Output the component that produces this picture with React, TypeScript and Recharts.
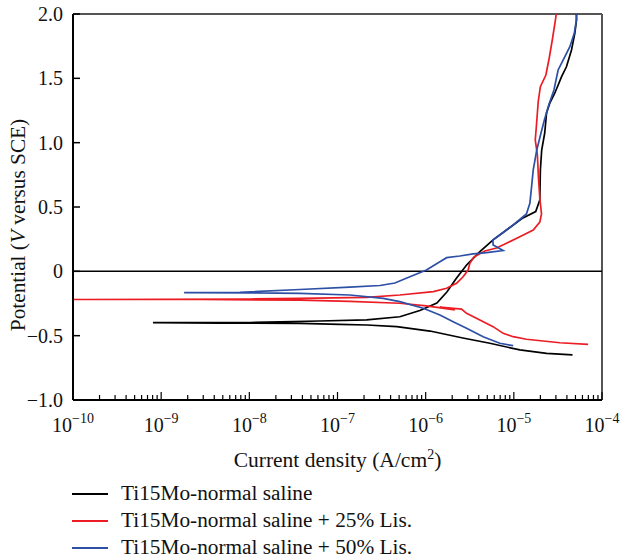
import React from "react";
import { LineChart, Line, XAxis, YAxis, ReferenceLine } from "recharts";

// current density (A/cm2) and potential (V vs SCE)
const blackI = [
  4.63e-5, 2.35e-5, 1.17e-5, 5.35e-6, 2.64e-6, 1.12e-6, 4.71e-7, 2.15e-7, 1.06e-7, 3.75e-8, 4.65e-9, 8.07e-10,
  1.02e-8, 6.3e-8, 2.14e-7, 5.09e-7, 8.59e-7, 1.34e-6, 1.74e-6, 2.2e-6, 2.91e-6, 4.12e-6, 5.82e-6, 8.55e-6,
  1.27e-5, 1.77e-5, 1.97e-5, 2.0e-5, 2.07e-5, 2.24e-5, 2.35e-5, 2.56e-5, 2.92e-5, 3.48e-5, 3.95e-5, 4.51e-5,
  4.92e-5, 5.14e-5, 5.14e-5,
];
const blackE = [
  -0.65, -0.637, -0.611, -0.559, -0.518, -0.464, -0.43, -0.417, -0.413, -0.405, -0.402, -0.399,
  -0.398, -0.386, -0.378, -0.353, -0.304, -0.246, -0.161, -0.06, 0.049, 0.153, 0.244, 0.329,
  0.415, 0.464, 0.554, 0.788, 0.943, 1.075, 1.231, 1.308, 1.386, 1.513, 1.59, 1.72,
  1.852, 1.953, 2.0,
];

const redI = [
  6.95e-5, 3.33e-5, 1.39e-5, 9.82e-6, 7.57e-6, 5.82e-6, 4.12e-6, 2.91e-6, 2.55e-6, 1.45e-6, 2.14e-6, 1.02e-6,
  5.09e-7, 1.38e-7, 3.75e-8, 2.75e-9, 1e-10,
  1.02e-8, 3.75e-8, 2.14e-7, 5.09e-7, 1.22e-6, 1.73e-6, 2.24e-6, 2.66e-6, 3.03e-6, 3.17e-6, 3.52e-6,
  4.69e-6, 6.37e-6, 8.26e-6, 1.17e-5, 1.66e-5, 1.97e-5, 2.06e-5, 1.97e-5, 1.9e-5, 1.85e-5, 1.75e-5,
  1.8e-5, 1.89e-5, 2.0e-5, 2.31e-5, 2.52e-5, 2.73e-5, 2.96e-5, 3.03e-5,
];
const redE = [
  -0.567, -0.555, -0.528, -0.508, -0.482, -0.43, -0.378, -0.326, -0.293, -0.277, -0.3, -0.269,
  -0.248, -0.234, -0.223, -0.219, -0.219,
  -0.215, -0.21, -0.202, -0.184, -0.158, -0.132, -0.093, -0.042, 0.01, 0.062, 0.111,
  0.158, 0.181, 0.218, 0.269, 0.321, 0.383, 0.446, 0.57, 0.736, 0.904, 1.021,
  1.124, 1.318, 1.435, 1.526, 1.658, 1.798, 1.953, 2.0,
];

const blueI = [
  9.82e-6, 6.93e-6, 4.49e-6, 2.91e-6, 2.05e-6, 1.45e-6, 9.38e-7, 5.09e-7, 3.3e-7, 1.38e-7, 3.75e-8, 1.02e-8, 1.82e-9,
  7.81e-9, 3.75e-8, 1.38e-7, 3.03e-7, 4.48e-7, 6.62e-7, 1.02e-6, 1.45e-6, 1.73e-6, 2.44e-6, 3.46e-6, 4.9e-6,
  7.57e-6, 5.82e-6, 5.79e-6, 6.93e-6, 9.82e-6, 1.39e-5, 1.52e-5, 1.59e-5, 1.66e-5, 1.82e-5, 2.02e-5, 2.22e-5,
  2.49e-5, 2.85e-5, 3.18e-5, 3.62e-5, 4.32e-5, 4.85e-5, 5.12e-5, 5.12e-5,
];
const blueE = [
  -0.578, -0.559, -0.508, -0.443, -0.391, -0.339, -0.287, -0.236, -0.21, -0.184, -0.171, -0.167, -0.166,
  -0.163, -0.141, -0.122, -0.11, -0.091, -0.042, 0.01, 0.075, 0.106, 0.119, 0.135, 0.145,
  0.162, 0.205, 0.244, 0.282, 0.36, 0.446, 0.529, 0.658, 0.788, 0.943, 1.067, 1.176,
  1.293, 1.409, 1.565, 1.642, 1.746, 1.85, 1.953, 2.0,
];

const seriesNames = [
  "Ti15Mo-normal saline",
  "Ti15Mo-normal saline + 25% Lis.",
  "Ti15Mo-normal saline + 50% Lis.",
];
const seriesColors = ["#000000", "#ec1c24", "#2d4fa5"];

const decades = [-10, -9, -8, -7, -6, -5, -4];
const mantissas = [1, 2, 3, 4, 5, 6, 7, 8, 9];
const yTicks = [-1, -0.5, 0, 0.5, 1, 1.5, 2];

const zip = (xs: number[], ys: number[]) => xs.map((i, k) => ({ i, e: ys[k] }));
const series = [zip(blackI, blackE), zip(redI, redE), zip(blueI, blueE)];

const xTicks = decades.flatMap((d) =>
  d === decades[decades.length - 1] ? [Math.pow(10, d)] : mantissas.map((m) => m * Math.pow(10, d))
);

const FONT = "Liberation Serif, DejaVu Serif, serif";
const txt = { fontFamily: FONT, fill: "#111" };

const XTick = (props: any) => {
  const { x, y, payload } = props;
  const lg = Math.log10(payload.value);
  const major = Math.abs(lg - Math.round(lg)) < 1e-6;
  return (
    <g>
      <line x1={x} x2={x} y1={y} y2={y - (major ? 8 : 5)} stroke="#000" strokeWidth={1.2} />
      {major && (
        <text x={x} y={y + 32} textAnchor="middle" fontSize={20} style={txt}>
          10
          <tspan dy={-9} fontSize={14}>
            {"\u2212" + Math.abs(Math.round(lg))}
          </tspan>
        </text>
      )}
    </g>
  );
};

const YTick = (props: any) => {
  const { x, y, payload } = props;
  const v = payload.value as number;
  const label = v === 0 ? "0" : (v < 0 ? "\u2212" : "") + Math.abs(v).toFixed(1);
  return (
    <g>
      <line x1={x} x2={x + 7} y1={y} y2={y} stroke="#000" strokeWidth={1.5} />
      <text x={x - 10} y={y + 7} textAnchor="end" fontSize={20} style={txt}>
        {label}
      </text>
    </g>
  );
};

const XTitle = (props: any) => {
  const { viewBox } = props;
  return (
    <text x={viewBox.x + viewBox.width / 2} y={viewBox.y + 67} textAnchor="middle" fontSize={21.5} style={txt}>
      Current density (A/cm
      <tspan dy={-8} fontSize={14}>2</tspan>
      <tspan dy={8}>)</tspan>
    </text>
  );
};

const YTitle = (props: any) => {
  const { viewBox } = props;
  const cx = viewBox.x + 12;
  const cy = viewBox.y + viewBox.height / 2 + 18;
  return (
    <text x={cx} y={cy} transform={`rotate(-90, ${cx}, ${cy})`} textAnchor="middle" fontSize={21.3} style={txt}>
      Potential (<tspan fontStyle="italic">V</tspan> versus SCE)
    </text>
  );
};

export default function App() {
  return (
    <div style={{ position: "absolute", left: 0, top: 0, width: 621, height: 559, background: "#fff" }}>
      <LineChart width={621} height={559} margin={{ top: 14, right: 19, bottom: 99, left: 13 }}>
        <XAxis
          type="number"
          dataKey="i"
          scale="log"
          domain={[1e-10, 1e-4]}
          allowDataOverflow
          ticks={xTicks}
          interval={0}
          tick={<XTick />}
          tickLine={false}
          tickSize={0}
          tickMargin={0}
          height={60}
          axisLine={{ stroke: "#000", strokeWidth: 2 }}
          label={<XTitle />}
        />
        <YAxis
          type="number"
          domain={[-1, 2]}
          allowDataOverflow
          ticks={yTicks}
          interval={0}
          tick={<YTick />}
          tickLine={false}
          tickSize={0}
          tickMargin={0}
          width={60}
          axisLine={{ stroke: "#000", strokeWidth: 2 }}
          label={<YTitle />}
        />
        <ReferenceLine y={2} stroke="#555" strokeWidth={2} />
        <ReferenceLine x={1e-4} stroke="#555" strokeWidth={2} />
        <ReferenceLine y={0} stroke="#000" strokeWidth={1.5} />
        {series.map((d, k) => (
          <Line
            key={seriesNames[k]}
            data={d}
            dataKey="e"
            name={seriesNames[k]}
            type="linear"
            stroke={seriesColors[k]}
            strokeWidth={1.7}
            dot={false}
            activeDot={false}
            isAnimationActive={false}
          />
        ))}
      </LineChart>
      <div style={{ position: "absolute", left: 72, top: 480, fontFamily: FONT, fontSize: 21.3, color: "#111" }}>
        {seriesNames.map((n, k) => (
          <div key={n} style={{ display: "flex", alignItems: "center", height: 27 }}>
            <div style={{ width: 36, height: 0, borderTop: `2px solid ${seriesColors[k]}`, marginRight: 13 }} />
            <span>{n}</span>
          </div>
        ))}
      </div>
    </div>
  );
}
